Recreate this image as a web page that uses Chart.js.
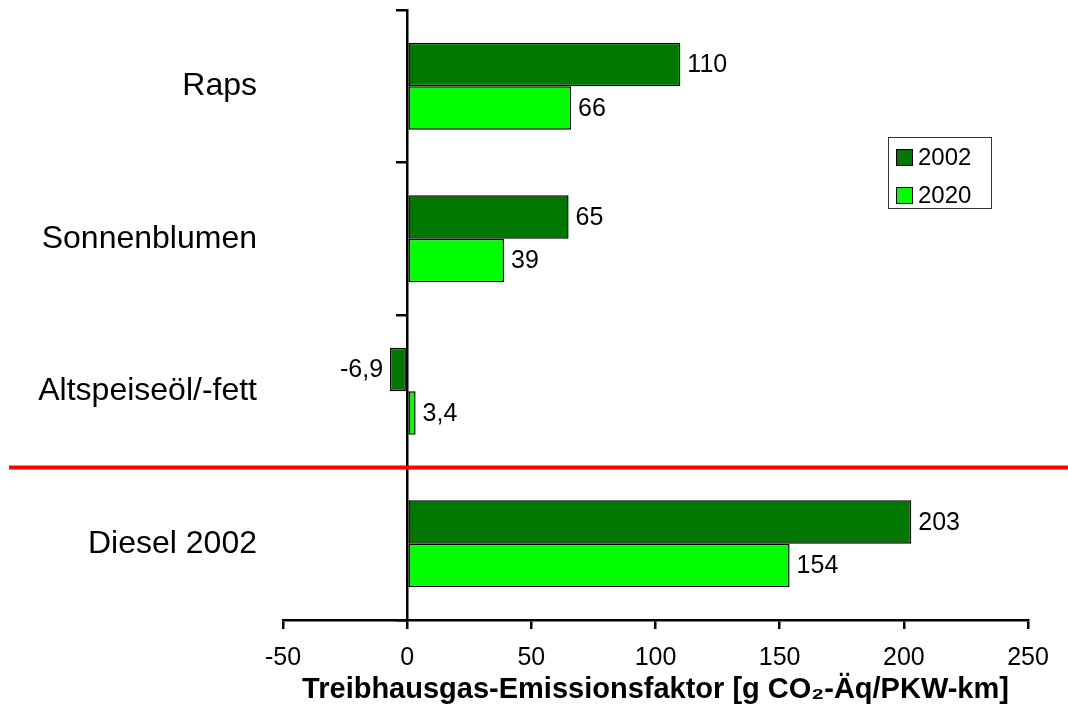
<!DOCTYPE html>
<html>
<head>
<meta charset="utf-8">
<script src="https://cdn.jsdelivr.net/npm/chart.js@4"></script>
<style>
  html, body { margin: 0; padding: 0; background: #fff; }
  #wrap { width: 1068px; height: 711px; }
</style>
</head>
<body>
<div id="wrap"><canvas id="chart"></canvas></div>
<script>
// Chart data
const categories = ['Raps', 'Sonnenblumen', 'Altspeiseöl/-fett', 'Diesel 2002'];
const seriesNames = ['2002', '2020'];
const values2002 = [110, 65, -6.9, 203];
const values2020 = [66, 39, 3.4, 154];
const xTicks = [-50, 0, 50, 100, 150, 200, 250];
const separatorBefore = 'Diesel 2002';

const FONT = '"Liberation Sans", Arial, sans-serif';
const colors = ['#007800', '#00ff00'];

// Format numbers German style (comma decimal)
function fmt(v) {
    return String(v).replace('.', ',');
}

// Value labels, red separator line and the legend box
const extras = {
    id: 'extras',
    afterDraw(chart) {
        const ctx = chart.ctx;
        ctx.save();

        // value labels next to the bars
        ctx.font = '25px ' + FONT;
        ctx.fillStyle = '#000';
        ctx.textBaseline = 'middle';
        chart.data.datasets.forEach((ds, i) => {
            chart.getDatasetMeta(i).data.forEach((bar, j) => {
                const v = ds.data[j];
                const neg = v < 0;
                ctx.textAlign = neg ? 'right' : 'left';
                ctx.fillText(fmt(v), bar.x + (neg ? -7 : 7), bar.y + 1);
            });
        });

        // red line between the biofuels and diesel
        const yScale = chart.scales.y;
        const ySep = yScale.getPixelForValue(categories.indexOf(separatorBefore) - 0.5);
        ctx.strokeStyle = '#ff0000';
        ctx.lineWidth = 4;
        ctx.beginPath();
        ctx.moveTo(9, ySep);
        ctx.lineTo(chart.width, ySep);
        ctx.stroke();

        // legend
        const lx = 888, ly = 137, lw = 103, lh = 71;
        ctx.fillStyle = '#fff';
        ctx.fillRect(lx, ly, lw, lh);
        ctx.strokeStyle = '#333';
        ctx.lineWidth = 1;
        ctx.strokeRect(lx + 0.5, ly + 0.5, lw, lh);
        ctx.font = '24px ' + FONT;
        ctx.textAlign = 'left';
        chart.data.datasets.forEach((ds, i) => {
            const sy = ly + 12 + i * 38;
            ctx.fillStyle = ds.backgroundColor;
            ctx.fillRect(lx + 8, sy, 17, 17);
            ctx.strokeStyle = '#000';
            ctx.strokeRect(lx + 8.5, sy + 0.5, 16, 16);
            ctx.fillStyle = '#000';
            ctx.fillText(ds.label, lx + 30, sy + 9);
        });

        ctx.restore();
    }
};

const datasets = [values2002, values2020].map((vals, i) => ({
    label: seriesNames[i],
    data: vals,
    backgroundColor: colors[i],
    borderColor: '#000',
    borderWidth: 1.5,
    borderSkipped: false,
    categoryPercentage: 0.57,
    barPercentage: 1.0
}));

new Chart(document.getElementById('chart'), {
    type: 'bar',
    data: { labels: categories, datasets: datasets },
    options: {
        indexAxis: 'y',
        responsive: true,
        maintainAspectRatio: false,
        animation: false,
        layout: { padding: { top: 10, right: 40, left: 0, bottom: 0 } },
        plugins: {
            legend: { display: false },
            tooltip: { enabled: false }
        },
        scales: {
            x: {
                type: 'linear',
                min: xTicks[0],
                max: xTicks[xTicks.length - 1],
                afterBuildTicks: s => { s.ticks = xTicks.map(v => ({ value: v })); },
                grid: { drawOnChartArea: false, color: '#000', lineWidth: 2.5, tickLength: 9 },
                border: { color: '#000', width: 2.5 },
                ticks: { color: '#000', font: { family: FONT, size: 25 }, padding: 14, callback: v => String(v) },
                title: {
                    display: true,
                    text: 'Treibhausgas-Emissionsfaktor [g CO₂-Äq/PKW-km]',
                    color: '#000',
                    font: { family: FONT, size: 29, weight: 'bold' },
                    padding: { top: 2, bottom: 4 }
                },
                afterFit: s => { s.height = 91; }
            },
            y: {
                type: 'category',
                position: 'left',
                grid: { display: false, drawTicks: false },
                border: { display: false },
                ticks: { color: '#000', font: { family: FONT, size: 32 }, padding: 26 },
                afterFit: s => {
                    s.width = 283;
                    s.paddingTop = 0;
                    s.paddingBottom = 0;
                }
            },
            // vertical axis line at zero with category boundary ticks
            yZero: {
                type: 'category',
                position: { x: 0 },
                offset: true,
                grid: { offset: true, drawOnChartArea: false, color: '#000', lineWidth: 2.5, tickLength: 10 },
                border: { color: '#000', width: 2.5 },
                ticks: { display: false },
                afterFit: s => {
                    s.width = 0;
                    s.paddingTop = 0;
                    s.paddingBottom = 0;
                }
            }
        }
    },
    plugins: [extras]
});
</script>
</body>
</html>
